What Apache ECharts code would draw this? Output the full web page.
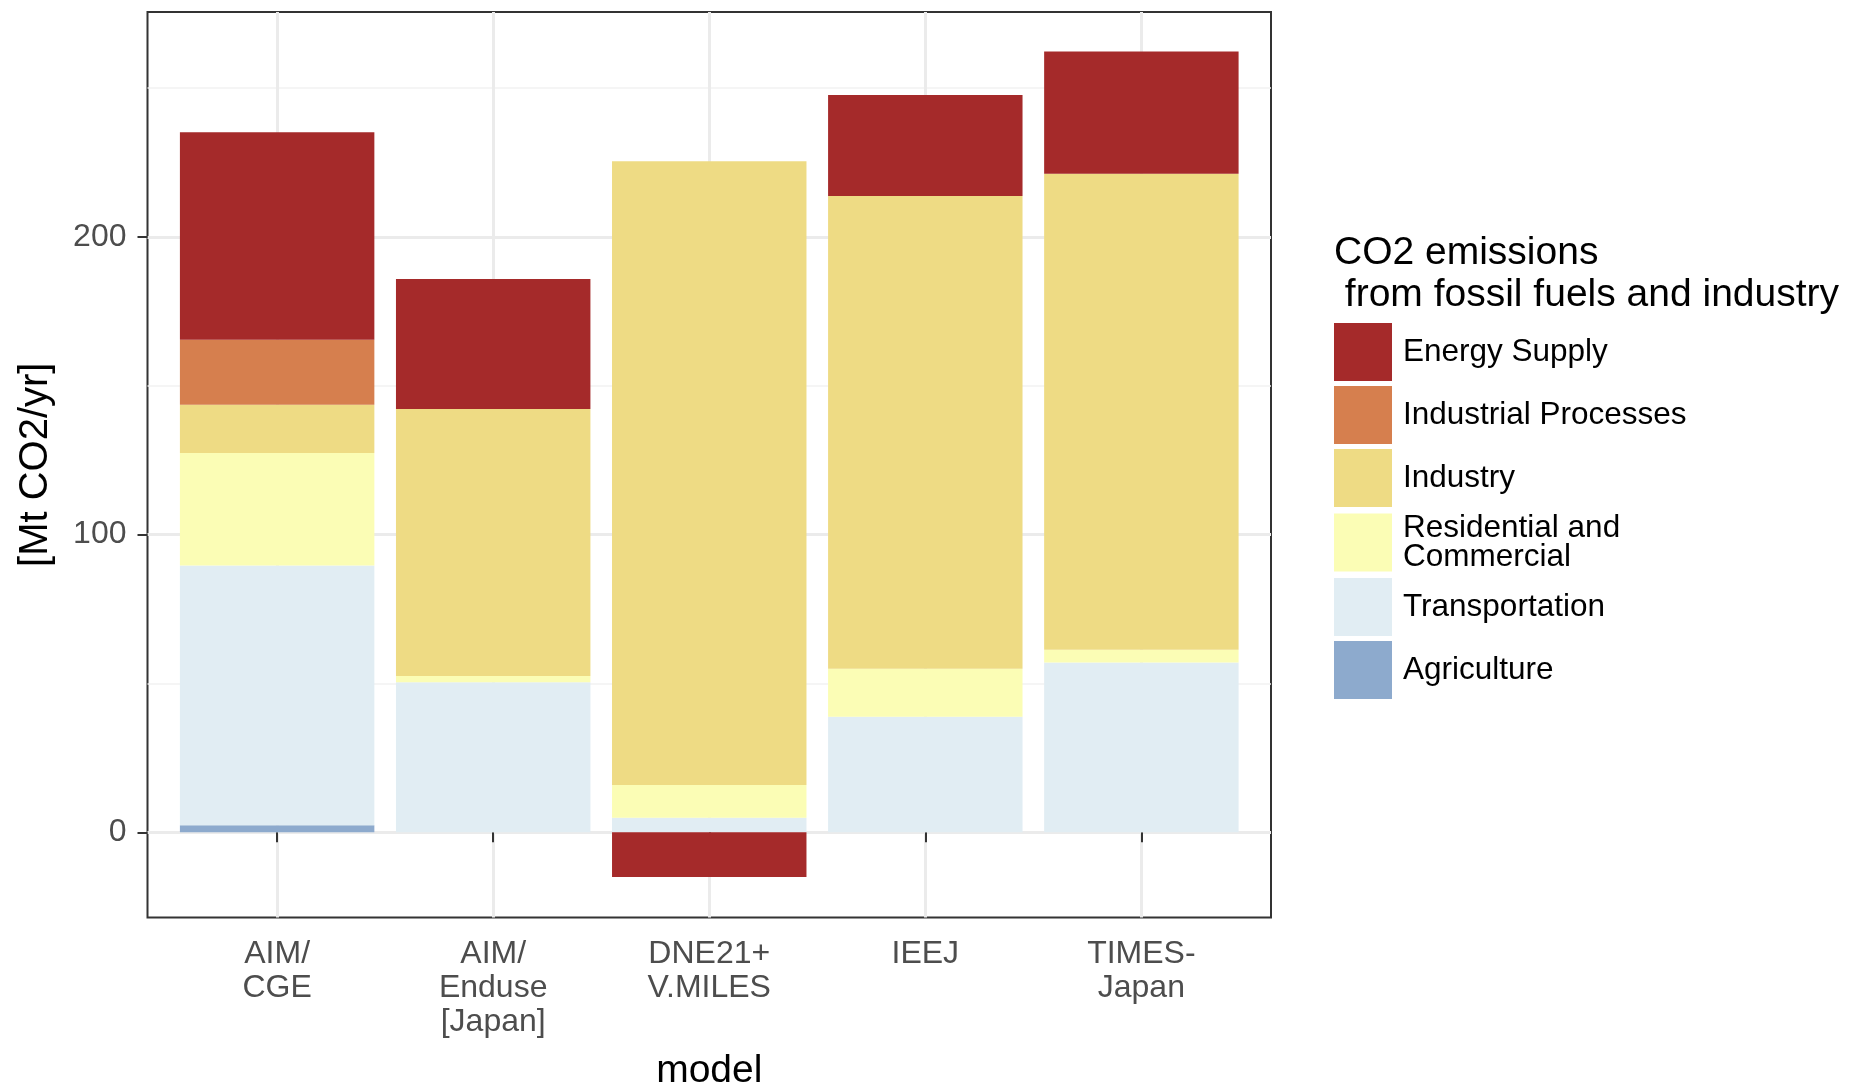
<!DOCTYPE html>
<html>
<head>
<meta charset="utf-8">
<title>CO2 emissions by model</title>
<script src="https://cdn.jsdelivr.net/npm/echarts@6/dist/echarts.min.js"></script>
<style>
  html, body { margin: 0; padding: 0; background: #fff; }
  #chart { width: 1863px; height: 1084px; }
</style>
</head>
<body>
<div id="chart"></div>
<script>
// models on the x axis
const categories = ["AIM/\nCGE", "AIM/\nEnduse\n[Japan]", "DNE21+\nV.MILES", "IEEJ", "TIMES-\nJapan"];

// sectors, Mt CO2/yr (bottom of stack first)
const agriculture = [2.4, 0, 0, 0, 0];
const transportation = [87.2, 50.4, 4.9, 38.8, 57];
const residentialCommercial = [37.8, 2.1, 11, 16.1, 4.3];
const industry = [16.2, 89.7, 209.5, 158.8, 159.9];
const industrialProcesses = [21.8, 0, 0, 0, 0];
const energySupply = [69.7, 43.6, -15, 33.9, 41];

// tick values
const yMajorTicks = [0, 100, 200];
const yMinorTicks = [50, 150, 250];
const xTicks = categories.map((c, i) => i + 1);

const legendOrder = ["Energy Supply", "Industrial Processes", "Industry",
  "Residential and\nCommercial", "Transportation", "Agriculture"];

const font = "'Liberation Sans', Arial, Helvetica, sans-serif";
const yMin = -28.6;
const yMax = 275.5;

// panel (ggplot style: discrete axis padded by 0.6 on each side)
const panel = { left: 147.5, top: 12, width: 1123.5, height: 905.5 };
const unit = panel.width / 5.2;

const chart = echarts.init(document.getElementById("chart"), null, { renderer: "canvas" });

const makeSeries = (name, values, color) => ({
  name: name,
  type: "bar",
  stack: "total",
  xAxisIndex: 1,
  yAxisIndex: 2,
  barWidth: "90%",
  itemStyle: { color: color },
  emphasis: { disabled: true },
  data: values,
});

const option = {
  animation: false,
  backgroundColor: "#ffffff",
  title: {
    text: "CO2 emissions\n from fossil fuels and industry",
    left: 1334,
    top: 232,
    padding: 0,
    textStyle: {
      fontFamily: font,
      fontSize: 39,
      fontWeight: "normal",
      color: "#000",
      lineHeight: 42,
    },
  },
  legend: {
    orient: "vertical",
    left: 1334,
    top: 323,
    padding: 0,
    itemWidth: 58,
    itemHeight: 58,
    itemGap: 5,
    icon: "rect",
    selectedMode: false,
    data: legendOrder,
    textStyle: {
      fontFamily: font,
      fontSize: 31.5,
      color: "#000",
      lineHeight: 29,
      padding: [0, 0, 0, 6],
    },
  },
  grid: [
    {
      left: panel.left,
      top: panel.top,
      width: panel.width,
      height: panel.height,
      outerBoundsMode: "none",
      containLabel: false,
      show: true,
      borderColor: "#333333",
      borderWidth: 2,
      backgroundColor: "transparent",
    },
    {
      left: panel.left + unit * 0.1,
      top: panel.top,
      width: panel.width - unit * 0.2,
      height: panel.height,
      outerBoundsMode: "none",
      containLabel: false,
      show: false,
    },
  ],
  xAxis: [
    {
      gridIndex: 0,
      type: "value",
      min: 0.4,
      max: 5.6,
      name: "model",
      nameLocation: "middle",
      nameGap: 134,
      nameTextStyle: { fontFamily: font, fontSize: 39, color: "#000" },
      axisLine: { show: false },
      axisTick: {
        show: true,
        length: 10,
        customValues: xTicks,
        lineStyle: { color: "#333333", width: 2 },
      },
      axisLabel: {
        customValues: xTicks,
        formatter: (v) => categories[Math.round(v) - 1] || "",
        fontFamily: font,
        fontSize: 32,
        color: "#4d4d4d",
        lineHeight: 34,
        margin: 20,
      },
      splitLine: { show: true, lineStyle: { color: "#ebebeb", width: 3 } },
    },
    {
      gridIndex: 1,
      type: "category",
      data: categories,
      show: false,
    },
  ],
  yAxis: [
    {
      gridIndex: 0,
      type: "value",
      min: yMin,
      max: yMax,
      name: "[Mt CO2/yr]",
      nameLocation: "middle",
      nameGap: 92,
      nameTextStyle: { fontFamily: font, fontSize: 40, color: "#000" },
      axisLine: { show: false },
      axisTick: {
        show: true,
        length: 10,
        customValues: yMajorTicks,
        lineStyle: { color: "#333333", width: 2 },
      },
      axisLabel: {
        customValues: yMajorTicks,
        fontFamily: font,
        fontSize: 32,
        color: "#4d4d4d",
        margin: 21,
      },
      splitLine: { show: true, lineStyle: { color: "#ebebeb", width: 3 } },
    },
    {
      // minor grid lines only
      gridIndex: 0,
      type: "value",
      position: "right",
      min: yMin,
      max: yMax,
      axisLine: { show: false },
      axisTick: { show: false, customValues: yMinorTicks },
      axisLabel: { show: false, customValues: yMinorTicks },
      splitLine: { show: true, lineStyle: { color: "#f2f2f2", width: 1.5 } },
    },
    {
      gridIndex: 1,
      type: "value",
      min: yMin,
      max: yMax,
      show: false,
    },
  ],
  series: [
    makeSeries("Agriculture", agriculture, "#8daacd"),
    makeSeries("Transportation", transportation, "#e1edf3"),
    makeSeries("Residential and\nCommercial", residentialCommercial, "#fbfdb5"),
    makeSeries("Industry", industry, "#eedb84"),
    makeSeries("Industrial Processes", industrialProcesses, "#d67f4e"),
    makeSeries("Energy Supply", energySupply, "#a52a2a"),
  ],
};

chart.setOption(option);
</script>
</body>
</html>
